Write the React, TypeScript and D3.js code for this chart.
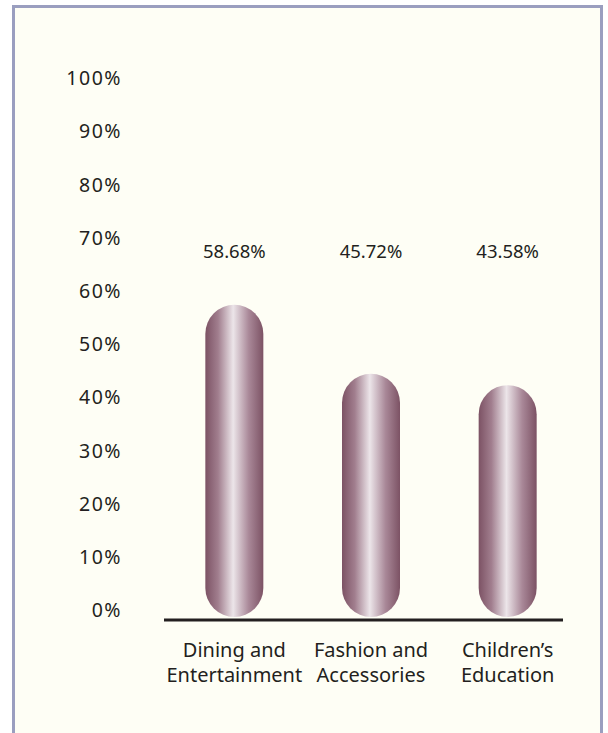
import React from "react";
import * as d3 from "d3";

const categories: string[][] = [
  ["Dining and", "Entertainment"],
  ["Fashion and", "Accessories"],
  ["Children\u2019s", "Education"],
];
const values: number[] = [58.68, 45.72, 43.58];
const valueLabels: string[] = ["58.68%", "45.72%", "43.58%"];
const yTicks: number[] = [0, 10, 20, 30, 40, 50, 60, 70, 80, 90, 100];

const W = 608;
const H = 733;
const FONT = "'Noto Sans', 'Open Sans', sans-serif";

export default function App() {
  const y = d3.scaleLinear().domain([0, 100]).range([617, 85]);
  const x = d3
    .scaleBand<number>()
    .domain(values.map((_, i) => i))
    .range([166, 576])
    .padding(0);
  const barW = 58;
  const r = barW / 2;

  return (
    <svg
      width={W}
      height={H}
      style={{ position: "absolute", left: 0, top: 0, display: "block" }}
    >
      <defs>
        <linearGradient id="barGrad" x1="0" x2="1" y1="0" y2="0">
          <stop offset="0" stopColor="#7c5264" />
          <stop offset="0.22" stopColor="#a17e8e" />
          <stop offset="0.48" stopColor="#ece5e9" />
          <stop offset="0.75" stopColor="#a98898" />
          <stop offset="1" stopColor="#7c5264" />
        </linearGradient>
      </defs>
      <rect x={0} y={0} width={W} height={H} fill="#ffffff" />
      <rect
        x={13.5}
        y={6.5}
        width={588}
        height={H + 20}
        fill="#fefef5"
        stroke="#9a9ebf"
        strokeWidth={3}
      />
      {yTicks.map((t) => (
        <text
          key={t}
          x={122}
          y={y(t) - 5}
          textAnchor="end"
          dominantBaseline="middle"
          fontFamily={FONT}
          fontSize={19.5}
          letterSpacing={1.5}
          fill="#231f20"
        >
          {t + "%"}
        </text>
      ))}
      {values.map((v, i) => {
        const cx = (x(i) as number) + x.bandwidth() / 2;
        const top = y(v);
        const bottom = y(0);
        return (
          <g key={i}>
            <rect
              x={cx - r}
              y={top}
              width={barW}
              height={bottom - top}
              rx={r}
              ry={r}
              fill="url(#barGrad)"
            />
            <text
              x={cx}
              y={253}
              textAnchor="middle"
              dominantBaseline="middle"
              fontFamily={FONT}
              fontSize={18.5}
              fill="#231f20"
            >
              {valueLabels[i]}
            </text>
            <text
              x={cx}
              y={657}
              textAnchor="middle"
              fontFamily={FONT}
              fontSize={20}
              fill="#231f20"
            >
              {categories[i].map((line, j) => (
                <tspan key={j} x={cx} dy={j === 0 ? 0 : 25}>
                  {line}
                </tspan>
              ))}
            </text>
          </g>
        );
      })}
      <line x1={164} x2={563} y1={620} y2={620} stroke="#231f20" strokeWidth={3} />
    </svg>
  );
}
